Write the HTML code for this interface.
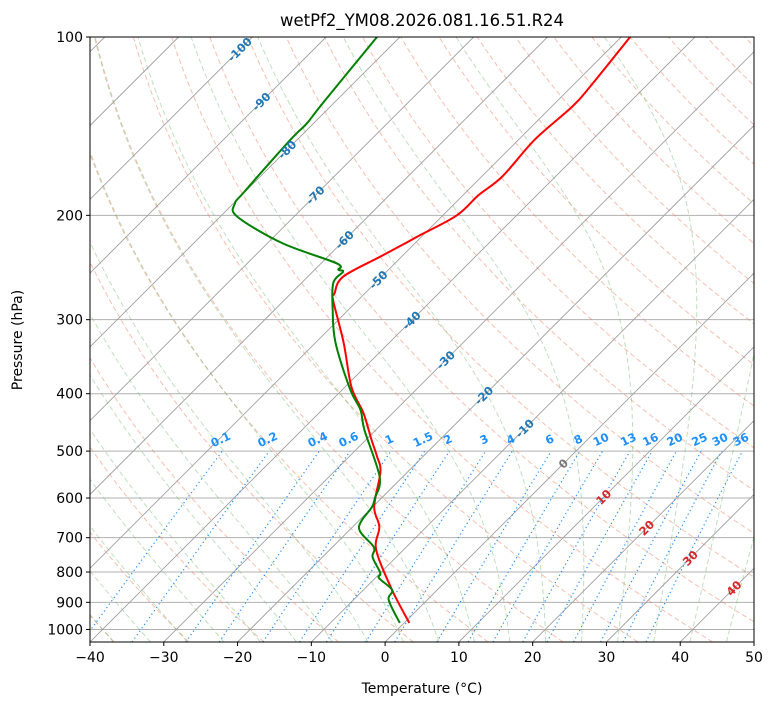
<!DOCTYPE html>
<html><head><meta charset="utf-8">
<style>
html,body{margin:0;padding:0;background:#fff;}
svg{display:block;font-family:"DejaVu Sans","Liberation Sans",sans-serif;}
</style></head>
<body>
<svg id="chart" width="775" height="708" viewBox="0 0 775 708">
<defs><clipPath id="pc"><rect x="90" y="37" width="664" height="605"/></clipPath></defs>
<g id="bg" clip-path="url(#pc)"></g>
<g id="profiles" clip-path="url(#pc)"></g>
<g id="labels"></g>
<rect x="90" y="37" width="664" height="605" fill="none" stroke="#000" stroke-width="1"/>
<g id="axes"></g>
<text x="422" y="26" text-anchor="middle" font-size="16.5">wetPf2_YM08.2026.081.16.51.R24</text>
<text x="422" y="693" text-anchor="middle" font-size="14">Temperature (°C)</text>
<text transform="translate(22,340) rotate(-90)" text-anchor="middle" font-size="14">Pressure (hPa)</text>
</svg>
<script>
// ---- data ----
const tempP = [975,858,734,671,621,542,511,479,431,390,328,278,271,254,235,222,216,200,185,172,149,131,121,100];
const tempT = [0.7,-6.1,-13.7,-16.4,-19.8,-23.7,-26.2,-29.2,-34.0,-39.1,-46.2,-53.4,-54.1,-55.2,-52.9,-51.2,-50.4,-48.1,-47.9,-47.2,-47.8,-47.2,-47.5,-48.8];
const dewP = [975,892,858,819,803,755,726,674,621,600,553,461,426,394,328,289,260,249,247,241,223,201,191,183,149,140,129,100];
const dewT = [-0.6,-5.2,-6.1,-9.5,-10.0,-13.2,-14.4,-19.0,-20.1,-20.9,-23.1,-31.5,-34.8,-38.9,-47.3,-52.1,-55.7,-55.9,-56.8,-57.9,-67.9,-77.7,-79.8,-80.1,-80.9,-80.9,-81.5,-83.1];
const pressureTicks = [100,200,300,400,500,600,700,800,900,1000];
const tempTicks = [-40,-30,-20,-10,0,10,20,30,40,50];
const mixingRatios = [0.1,0.2,0.4,0.6,1,1.5,2,3,4,6,8,10,13,16,20,25,30,36];
const mixingLabels = ["0.1","0.2","0.4","0.6","1","1.5","2","3","4","6","8","10","13","16","20","25","30","36"];
const isoLabelT = [-100,-90,-80,-70,-60,-50,-40,-30,-20,-10,0,10,20,30,40];
const isoLabelP = [105,128.6,155,185,220,257,301,351,403,458,525,598,674,758,852];

// ---- axes ----
const X0=90,X1=754,Y0=37,Y1=642,PB=1050,PT=100;
const DEC=(Y1-Y0)/Math.log10(PB/PT);
const KX=(X1-X0)/90;
function yOf(p){return Y1-DEC*Math.log10(PB/p);}
function xOf(T,p){return X0+(T+40)*KX+(Y1-yOf(p));}
const NS='http://www.w3.org/2000/svg';
function mk(tag,attrs,parent){const e=document.createElementNS(NS,tag);for(const k in attrs)e.setAttribute(k,attrs[k]);parent.appendChild(e);return e;}
const bg=document.getElementById('bg'),prof=document.getElementById('profiles'),lab=document.getElementById('labels'),ax=document.getElementById('axes');
function pathFrom(fnT,p0,p1,n){let d='';for(let i=0;i<=n;i++){const p=p0*Math.pow(p1/p0,i/n);const T=fnT(p);d+=(i?'L':'M')+xOf(T,p).toFixed(1)+','+yOf(p).toFixed(1);}return d;}

// isobars
for(const p of pressureTicks){
  const l=mk('line',{x1:X0,x2:X1,y1:yOf(p),y2:yOf(p),stroke:'#b0b0b0','stroke-width':1},bg);
  
  
}
// dry adiabats
for(let th=-40;th<=210;th+=10){
  const K=th+273.15;
  const e=mk('path',{d:pathFrom(p=>K*Math.pow(p/1000,0.2857)-273.15,1050,100,60),fill:'none',stroke:'#f08060','stroke-opacity':0.5,'stroke-width':1,'stroke-dasharray':'5,3'},bg);
  
  
}
// moist adiabats
function es(T){return 6.112*Math.exp(17.67*T/(T+243.5));}
function dTdp(p,T){const Tk=T+273.15;const rs=0.622*es(T)/(p-es(T));const Lv=2.501e6,Rd=287.04,Cp=1005.7;
  return (Rd*Tk+Lv*rs)/(Cp+Lv*Lv*rs*0.622/(Rd*Tk*Tk))/p;}
function stepRK(p,T,dp){const k1=dTdp(p,T),k2=dTdp(p+dp/2,T+k1*dp/2),k3=dTdp(p+dp/2,T+k2*dp/2),k4=dTdp(p+dp,T+k3*dp);return T+dp*(k1+2*k2+2*k3+k4)/6;}
function moistPts(T0){
  let T=T0,p=1000;const up=[];
  for(let i=0;i<=180;i++){up.push([p,T]);T=stepRK(p,T,-5);p-=5;}
  T=T0;p=1000;const dn=[];
  for(let i=0;i<10;i++){T=stepRK(p,T,5);p+=5;dn.unshift([p,T]);}
  return dn.concat(up);
}
for(let t0=-40;t0<=45;t0+=5){
  const pts=moistPts(t0);
  const d=pts.map((q,i)=>(i?'L':'M')+xOf(q[1],q[0]).toFixed(1)+','+yOf(q[0]).toFixed(1)).join('');
  const e=mk('path',{d:d,fill:'none',stroke:'#60b060','stroke-opacity':0.4,'stroke-width':1,'stroke-dasharray':'5,3'},bg);
  
  
}
// isotherms
for(let T=-130;T<=50;T+=10){
  const e=mk('line',{x1:xOf(T,PB),y1:yOf(PB),x2:xOf(T,PT),y2:yOf(PT),stroke:'#a0a0a0','stroke-width':0.9},bg);
  
  
}
// mixing ratio lines
function tdOf(w,p){const e=p*w/(622+w);const a=Math.log(e/6.112);return 243.5*a/(17.67-a);}
mixingRatios.forEach((w,i)=>{
  const e=mk('path',{d:pathFrom(p=>tdOf(w,p),1050,500,20),fill:'none',stroke:'#1e90ff','stroke-width':1.2,'stroke-dasharray':'1.2,3'},bg);
  
  
  const x=xOf(tdOf(w,500),500),y=yOf(500)-8;
  const t=mk('text',{x:x,y:y,'text-anchor':'middle','font-size':11.5,'font-weight':'bold',fill:'#1e90ff',transform:'rotate(-25 '+x+' '+y+')'},lab);
  t.textContent=mixingLabels[i];
  
  
});
// isotherm labels
isoLabelT.forEach((T,i)=>{
  const p=isoLabelP[i];const x=xOf(T,p),y=yOf(p);
  const col=T<0?'#1f77b4':(T===0?'#777':'#d62728');
  const t=mk('text',{x:x,y:y+4,'text-anchor':'middle','font-size':11.5,'font-weight':'bold',fill:col,transform:'rotate(-45 '+x+' '+y+')'},lab);
  t.textContent=String(T);
  
  
});
// profiles (smoothed Catmull-Rom through data points)
function prPath(P,T){
  const pts=P.map((p,i)=>[xOf(T[i],p),yOf(p)]);
  let d='M'+pts[0][0].toFixed(1)+','+pts[0][1].toFixed(1);
  for(let i=0;i<pts.length-1;i++){
    const p0=pts[Math.max(0,i-1)],p1=pts[i],p2=pts[i+1],p3=pts[Math.min(pts.length-1,i+2)];
    const c1=[p1[0]+(p2[0]-p0[0])/6,p1[1]+(p2[1]-p0[1])/6];
    const c2=[p2[0]-(p3[0]-p1[0])/6,p2[1]-(p3[1]-p1[1])/6];
    d+='C'+c1[0].toFixed(1)+','+c1[1].toFixed(1)+' '+c2[0].toFixed(1)+','+c2[1].toFixed(1)+' '+p2[0].toFixed(1)+','+p2[1].toFixed(1);
  }
  return d;
}
const tl=mk('path',{d:prPath(tempP,tempT),fill:'none',stroke:'#ff0000','stroke-width':2,'stroke-linejoin':'round'},prof);


const dl=mk('path',{d:prPath(dewP,dewT),fill:'none',stroke:'#008000','stroke-width':2,'stroke-linejoin':'round'},prof);


// ticks
pressureTicks.forEach(p=>{
  const y=yOf(p);
  const l=mk('line',{x1:X0-4,x2:X0,y1:y,y2:y,stroke:'#000'},ax);
  
  
  const t=mk('text',{x:X0-7,y:y+5,'text-anchor':'end','font-size':14},ax);
  t.textContent=String(p);
  
  
});
tempTicks.forEach(T=>{
  const x=X0+(T+40)*KX;
  const l=mk('line',{x1:x,x2:x,y1:Y1,y2:Y1+4,stroke:'#000'},ax);
  
  
  const t=mk('text',{x:x,y:Y1+20,'text-anchor':'middle','font-size':14},ax);
  t.textContent=(T<0?'\u2212'+(-T):String(T));
  
  
});
</script>
</body></html>
